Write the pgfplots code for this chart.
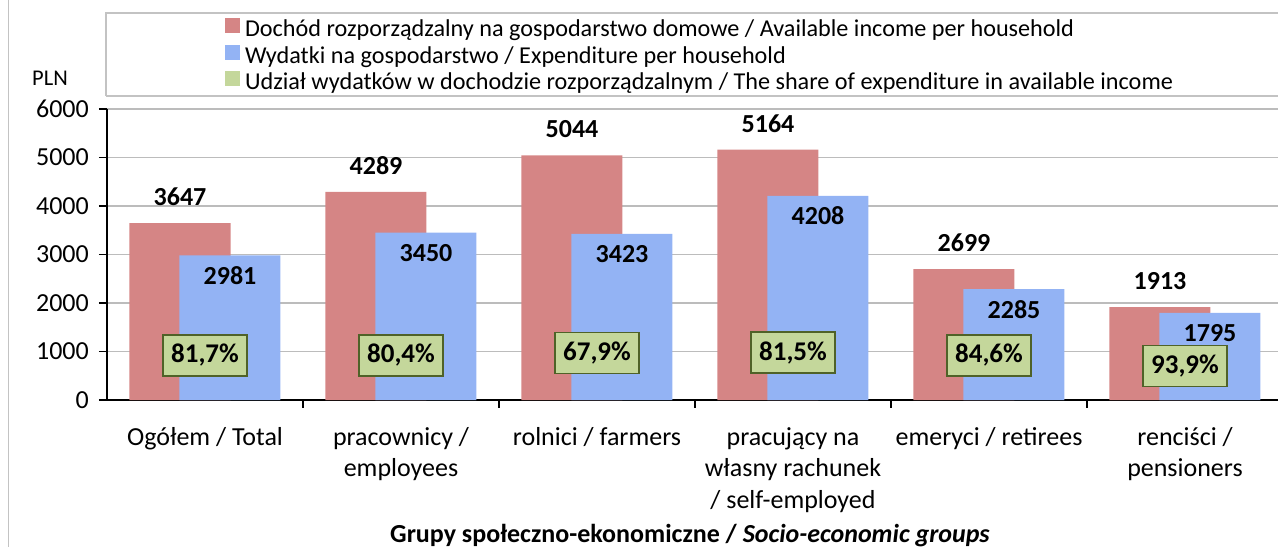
\documentclass[border=0pt]{standalone}
\usepackage{fontspec}
\setmainfont{Carlito}
\usepackage{pgfplots}
\pgfplotsset{compat=1.18}
\usepackage{pgfplotstable}
\definecolor{inc}{RGB}{213,133,133}
\definecolor{expc}{RGB}{147,179,244}
\definecolor{shfill}{RGB}{196,215,155}
\definecolor{shdraw}{RGB}{79,98,40}
\definecolor{gridc}{RGB}{188,188,188}
\definecolor{framec}{RGB}{195,195,195}
\pgfplotstableread{
x inc exp share pos
0 3647 2981 81.7 918
1 4289 3450 80.4 918
2 5044 3423 67.9 969
3 5164 4208 81.5 979
4 2699 2285 84.6 918
5 1913 1795 93.9 701
}\data
\begin{document}
\begin{tikzpicture}
\draw[framec, line width=1.5bp] (8.5bp,-5bp) -- (8.5bp,560bp);
\draw[framec, line width=1.5bp] (106bp,451bp) -- (106bp,534bp) -- (1290bp,534bp);
\draw[framec, line width=1.5bp] (106bp,451bp) -- (1290bp,451bp);
\node[font=\fontsize{22.5bp}{27bp}\selectfont, anchor=center] at (50bp,469bp) {PLN};
\begin{axis}[
  at={(107bp,147bp)}, anchor=south west,
  scale only axis, width=1171bp, height=291bp,
  xmin=-0.5, xmax=5.4745, ymin=0, ymax=6000,
  axis x line*=bottom, axis y line*=left,
  axis line style={black, line width=1.6bp, -},
  ytick={0,1000,...,6000},
  ymajorgrids, major grid style={color=gridc, line width=1.4bp},
  tick align=outside,
  major tick length=8bp, minor tick length=8bp,
  tick style={black, line width=1.6bp},
  xtick={0,...,5},
  every major x tick/.style={draw=none},
  minor xtick={0.5,1.5,2.5,3.5,4.5},
  xticklabels={Ogółem / Total, pracownicy /\\employees, rolnici / farmers, pracujący na\\własny rachunek\\/ self-employed, emeryci / retirees, renciści /\\pensioners},
  xticklabel style={align=center, font=\fontsize{26bp}{31.5bp}\selectfont, inner sep=0pt, yshift=-19bp},
  yticklabel style={font=\fontsize{26bp}{32bp}\selectfont, inner sep=0pt, xshift=-10bp},
  /pgf/number format/assume math mode=true,
  /pgf/number format/1000 sep={},
  legend style={at={(0.1008,1.3127)}, anchor=north west, draw=none, fill=none,
    inner sep=0pt, outer sep=0pt, row sep=3bp, column sep=5bp,
    font=\fontsize{24.2bp}{28bp}\selectfont,
    nodes={inner sep=0pt, text height=16bp, text depth=5bp}},
  legend cell align=left,
  clip=false,
]
\addplot[ybar, bar width=101bp, bar shift=0pt, fill=inc, draw=none,
  nodes near coords,
  nodes near coords style={font=\fontsize{26bp}{30bp}\selectfont\bfseries, anchor=center, yshift=26bp, inner sep=0pt},
  legend image code/.code={\fill[inc] (0bp,-2bp) rectangle (15bp,13bp);}]
  table[x expr=\thisrow{x}-0.12755, y=inc] {\data};
\addlegendentry{Dochód rozporządzalny na gospodarstwo domowe / Available income per household}
\addplot[ybar, bar width=101bp, bar shift=0pt, fill=expc, draw=none,
  nodes near coords,
  nodes near coords style={font=\fontsize{26bp}{30bp}\selectfont\bfseries, anchor=center, yshift=-20bp, inner sep=0pt},
  legend image code/.code={\fill[expc] (0bp,-2bp) rectangle (15bp,13bp);}]
  table[x expr=\thisrow{x}+0.12755, y=exp] {\data};
\addlegendentry{Wydatki na gospodarstwo / Expenditure per household}
\addplot[draw=none, mark=none, point meta=\thisrow{share},
  nodes near coords={\pgfmathprintnumber[fixed,fixed zerofill,precision=1,use comma]{\pgfplotspointmeta}\%},
  nodes near coords style={font=\fontsize{27bp}{32bp}\selectfont\bfseries, anchor=center,
    fill=shfill, draw=shdraw, line width=1.5bp, inner sep=0pt, minimum width=84bp, minimum height=41bp},
  legend image code/.code={\fill[shfill] (0bp,-2bp) rectangle (15bp,13bp);}]
  table[x=x, y=pos] {\data};
\addlegendentry{Udział wydatków w dochodzie rozporządzalnym / The share of expenditure in available income}
\end{axis}
\node[anchor=base, font=\fontsize{26bp}{32bp}\selectfont\bfseries] at (690bp,4.5bp) {Grupy społeczno-ekonomiczne / \textit{Socio-economic groups}};
\pgfresetboundingbox
\path[use as bounding box] (0bp,0bp) rectangle (1278bp,547bp);
\end{tikzpicture}
\end{document}
